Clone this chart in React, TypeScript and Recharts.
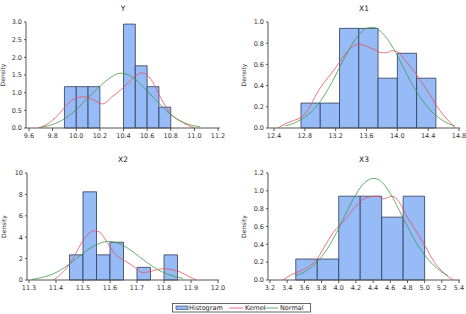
import React from 'react'
import {
  ComposedChart, Line, XAxis, YAxis, ReferenceArea,
} from 'recharts'

// ---- data ----
// histogram: left edges of bins, common bin width, density per bin
const yBinStart = [9.9, 10.0, 10.1, 10.4, 10.5, 10.6, 10.7]
const yBinWidth = 0.1
const yDensity = [1.17, 1.17, 1.17, 2.94, 1.76, 1.17, 0.59]
const yKernel: [number, number][] = [
  [9.68, 0], [9.75, 0.1], [9.8, 0.22], [9.85, 0.38], [9.9, 0.58], [9.95, 0.75], [10.0, 0.85],
  [10.05, 0.88], [10.1, 0.86], [10.15, 0.79], [10.2, 0.7], [10.22, 0.68], [10.25, 0.72],
  [10.3, 0.88], [10.35, 1.0], [10.4, 1.15], [10.45, 1.32], [10.5, 1.47], [10.55, 1.56],
  [10.6, 1.5], [10.65, 1.28], [10.7, 0.95], [10.75, 0.65], [10.8, 0.4], [10.85, 0.26],
  [10.9, 0.16], [10.95, 0.07], [11.0, 0.0],
]
const yNormal: [number, number][] = [
  [9.7, 0.02], [9.8, 0.1], [9.9, 0.26], [10.0, 0.52], [10.1, 0.86], [10.2, 1.18],
  [10.3, 1.45], [10.37, 1.55], [10.45, 1.49], [10.5, 1.38], [10.6, 1.05], [10.7, 0.7],
  [10.8, 0.38], [10.9, 0.17], [11.0, 0.06], [11.05, 0.03],
]

const x1BinStart = [12.75, 13.0, 13.25, 13.5, 13.75, 14.0, 14.25]
const x1BinWidth = 0.25
const x1Density = [0.235, 0.235, 0.94, 0.94, 0.47, 0.705, 0.47]
const x1Kernel: [number, number][] = [
  [12.45, 0], [12.55, 0.04], [12.65, 0.07], [12.75, 0.1], [12.85, 0.18], [12.95, 0.32],
  [13.05, 0.43], [13.15, 0.52], [13.25, 0.62], [13.35, 0.72], [13.45, 0.78], [13.52, 0.79],
  [13.6, 0.77], [13.7, 0.74], [13.8, 0.71], [13.86, 0.71], [13.93, 0.73], [14.0, 0.72],
  [14.1, 0.64], [14.2, 0.55], [14.3, 0.45], [14.4, 0.34], [14.5, 0.22], [14.6, 0.12],
  [14.7, 0.04], [14.75, 0],
]
const x1Normal: [number, number][] = [
  [12.55, 0.02], [12.7, 0.06], [12.85, 0.13], [13.0, 0.25], [13.15, 0.43], [13.3, 0.64],
  [13.45, 0.83], [13.6, 0.94], [13.68, 0.95], [13.8, 0.9], [13.95, 0.75], [14.1, 0.54],
  [14.25, 0.34], [14.4, 0.19], [14.55, 0.09], [14.7, 0.03], [14.75, 0.02],
]

const x2BinStart = [11.45, 11.5, 11.55, 11.6, 11.7, 11.8]
const x2BinWidth = 0.05
const x2Density = [2.35, 8.24, 2.35, 3.53, 1.18, 2.35]
const x2Kernel: [number, number][] = [
  [11.39, 0], [11.42, 0.6], [11.45, 1.5], [11.48, 2.8], [11.5, 3.7], [11.52, 4.3],
  [11.54, 4.6], [11.56, 4.5], [11.58, 3.9], [11.6, 3.1], [11.62, 2.4], [11.65, 1.85],
  [11.68, 1.4], [11.7, 1.0], [11.72, 0.7], [11.75, 0.8], [11.78, 1.0], [11.8, 1.05],
  [11.83, 0.95], [11.86, 0.75], [11.89, 0.35], [11.92, 0],
]
const x2Normal: [number, number][] = [
  [11.31, 0.05], [11.35, 0.25], [11.4, 0.7], [11.45, 1.5], [11.5, 2.5], [11.55, 3.3],
  [11.59, 3.6], [11.63, 3.45], [11.67, 2.9], [11.71, 2.15], [11.75, 1.4], [11.79, 0.8],
  [11.83, 0.4], [11.87, 0.15],
]

const x3BinStart = [3.5, 3.75, 4.0, 4.25, 4.5, 4.75]
const x3BinWidth = 0.25
const x3Density = [0.235, 0.235, 0.94, 0.94, 0.705, 0.94]
const x3Kernel: [number, number][] = [
  [3.35, 0], [3.45, 0.06], [3.55, 0.1], [3.65, 0.15], [3.75, 0.24], [3.85, 0.4],
  [3.95, 0.55], [4.05, 0.65], [4.15, 0.77], [4.25, 0.88], [4.35, 0.93], [4.45, 0.94],
  [4.52, 0.91], [4.62, 0.94], [4.7, 0.88], [4.8, 0.7], [4.9, 0.55], [5.0, 0.39],
  [5.1, 0.22], [5.2, 0.1], [5.3, 0.02], [5.33, 0],
]
const x3Normal: [number, number][] = [
  [3.5, 0.05], [3.6, 0.09], [3.7, 0.16], [3.8, 0.26], [3.9, 0.4], [4.0, 0.58], [4.1, 0.78],
  [4.2, 0.96], [4.3, 1.09], [4.41, 1.14], [4.5, 1.1], [4.6, 0.97], [4.7, 0.79], [4.8, 0.6],
  [4.9, 0.42], [5.0, 0.28], [5.1, 0.17], [5.2, 0.09], [5.27, 0.05],
]

const yXTicks = [9.6, 9.8, 10.0, 10.2, 10.4, 10.6, 10.8, 11.0, 11.2]
const yYTicks = [0, 0.5, 1.0, 1.5, 2.0, 2.5, 3.0]
const x1XTicks = [12.4, 12.8, 13.2, 13.6, 14.0, 14.4, 14.8]
const x1YTicks = [0, 0.2, 0.4, 0.6, 0.8, 1.0]
const x2XTicks = [11.3, 11.4, 11.5, 11.6, 11.7, 11.8, 11.9, 12.0]
const x2YTicks = [0, 2, 4, 6, 8, 10]
const x3XTicks = [3.2, 3.4, 3.6, 3.8, 4.0, 4.2, 4.4, 4.6, 4.8, 5.0, 5.2, 5.4]
const x3YTicks = [0, 0.2, 0.4, 0.6, 0.8, 1.0, 1.2]

const FONT = '"DejaVu Sans", Verdana, sans-serif'
const BAR_FILL = '#97bbf6'
const BAR_STROKE = '#2f3a5a'
const KERNEL = '#e8505f'
const NORMAL = '#3f9a48'
const AXIS = '#555'
const tickStyle = { fill: '#333', fontSize: 6.5, fontFamily: FONT }

interface PanelProps {
  title: string
  left: number
  top: number
  width: number
  height: number
  mTop: number
  mRight: number
  yWidth: number
  padL: number
  padR: number
  xTicks: number[]
  yTicks: number[]
  yDigits: number
  binStart: number[]
  binWidth: number
  density: number[]
  kernel: [number, number][]
  normal: [number, number][]
  labelDx: number
}

function Panel(p: PanelProps) {
  const kernelData = p.kernel.map(([x, y]) => ({ x, y }))
  const normalData = p.normal.map(([x, y]) => ({ x, y }))
  const xDom: [number, number] = [p.xTicks[0], p.xTicks[p.xTicks.length - 1]]
  const yDom: [number, number] = [p.yTicks[0], p.yTicks[p.yTicks.length - 1]]
  const plotLeft = p.yWidth
  const plotRight = p.width - p.mRight
  return (
    <div style={{ position: 'absolute', left: p.left, top: p.top, width: p.width, height: p.height }}>
      <div style={{
        position: 'absolute', top: p.mTop - 18, left: plotLeft, width: plotRight - plotLeft,
        textAlign: 'center', fontFamily: FONT, fontSize: 7.5, color: '#222',
      }}>{p.title}</div>
      <ComposedChart width={p.width} height={p.height}
        margin={{ top: p.mTop, right: p.mRight, bottom: 0, left: 0 }}>
        <XAxis dataKey="x" type="number" domain={xDom} ticks={p.xTicks} allowDataOverflow
          padding={{ left: p.padL, right: p.padR }} height={17}
          tick={tickStyle} tickSize={3} tickMargin={2} stroke={AXIS}
          tickFormatter={(v: number) => v.toFixed(1)} />
        <XAxis xAxisId="top" orientation="top" type="number" domain={[0, 1]} height={0}
          tick={false} tickLine={false} stroke={AXIS} />
        <YAxis type="number" domain={yDom} ticks={p.yTicks} width={p.yWidth} allowDataOverflow
          tick={tickStyle} tickSize={2} tickMargin={2} stroke={AXIS}
          tickFormatter={(v: number) => v.toFixed(p.yDigits)}
          label={{ value: 'Density', angle: -90, position: 'center', dx: p.labelDx,
            style: { fill: '#333', fontSize: 6, fontFamily: FONT } }} />
        <YAxis yAxisId="r" orientation="right" type="number" domain={[0, 1]} width={0}
          tick={false} tickLine={false} stroke={AXIS} />
        {p.binStart.map((s, i) => (
          <ReferenceArea key={i} x1={s} x2={s + p.binWidth} y1={0} y2={p.density[i]}
            fill={BAR_FILL} fillOpacity={1} stroke={BAR_STROKE} strokeWidth={0.8} />
        ))}
        <Line data={kernelData} dataKey="y" type="monotone" stroke={KERNEL} strokeWidth={0.8}
          dot={false} isAnimationActive={false} />
        <Line data={normalData} dataKey="y" type="monotone" stroke={NORMAL} strokeWidth={0.8}
          dot={false} isAnimationActive={false} />
      </ComposedChart>
    </div>
  )
}

function LegendBox() {
  return (
    <svg style={{ position: 'absolute', left: 172, top: 303 }} width={140} height={10}>
      <rect x={0.5} y={0.5} width={138} height={8.5} fill="#fff" stroke="#444" strokeWidth={0.8} />
      <rect x={4} y={3} width={12} height={3.5} fill={BAR_FILL} stroke={BAR_STROKE} strokeWidth={0.6} />
      <text x={17} y={7.2} fontSize={6.5} fontFamily={FONT} fill="#222">Histogram</text>
      <line x1={57} x2={71} y1={5} y2={5} stroke={KERNEL} strokeWidth={0.8} />
      <text x={73} y={7.2} fontSize={6.5} fontFamily={FONT} fill="#222">Kernel</text>
      <line x1={91} x2={106} y1={5} y2={5} stroke={NORMAL} strokeWidth={0.8} />
      <text x={108} y={7.2} fontSize={6.5} fontFamily={FONT} fill="#222">Normal</text>
    </svg>
  )
}

export default function App() {
  return (
    <div style={{ position: 'fixed', left: 0, top: 0, width: 466, height: 314, background: '#fff' }}>
      <Panel title="Y" left={0} top={0} width={233} height={145} mTop={22} mRight={13} yWidth={26}
        padL={3} padR={2} xTicks={yXTicks} yTicks={yYTicks} yDigits={1}
        binStart={yBinStart} binWidth={yBinWidth} density={yDensity}
        kernel={yKernel} normal={yNormal} labelDx={-10} />
      <Panel title="X1" left={233} top={0} width={233} height={145} mTop={22} mRight={6} yWidth={35}
        padL={6} padR={1} xTicks={x1XTicks} yTicks={x1YTicks} yDigits={1}
        binStart={x1BinStart} binWidth={x1BinWidth} density={x1Density}
        kernel={x1Kernel} normal={x1Normal} labelDx={-7} />
      <Panel title="X2" left={0} top={145} width={233} height={152} mTop={28} mRight={14} yWidth={27}
        padL={2} padR={1} xTicks={x2XTicks} yTicks={x2YTicks} yDigits={0}
        binStart={x2BinStart} binWidth={x2BinWidth} density={x2Density}
        kernel={x2Kernel} normal={x2Normal} labelDx={-10} />
      <Panel title="X3" left={233} top={145} width={233} height={152} mTop={28} mRight={6} yWidth={35}
        padL={2} padR={1} xTicks={x3XTicks} yTicks={x3YTicks} yDigits={1}
        binStart={x3BinStart} binWidth={x3BinWidth} density={x3Density}
        kernel={x3Kernel} normal={x3Normal} labelDx={-7} />
      <LegendBox />
    </div>
  )
}
